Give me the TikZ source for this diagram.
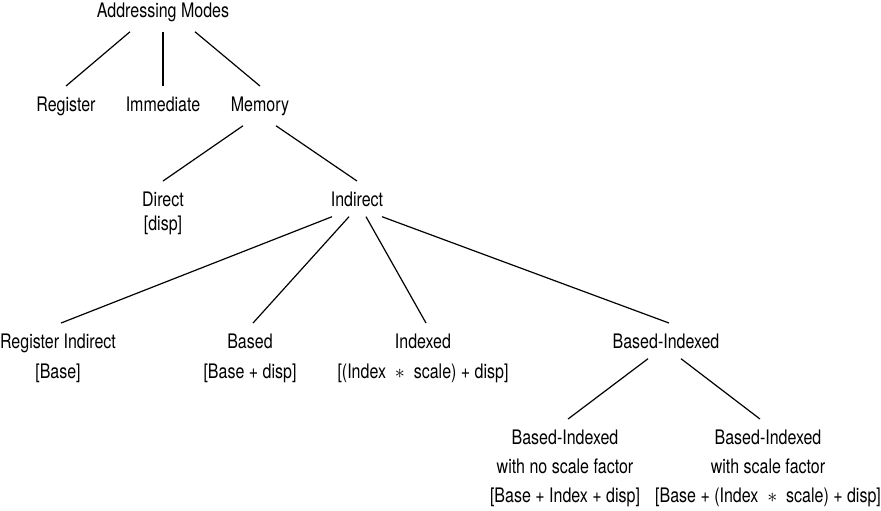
\documentclass[tikz,border=0pt]{standalone}
\usepackage{fontspec}
\setmainfont{TeX Gyre Heros}[FakeStretch=0.8]

\begin{document}
\begin{tikzpicture}[x=0.5pt, y=-0.5pt, font=\fontsize{10}{14.5}\selectfont,
        mode/.style={align=center, anchor=base, inner xsep=0pt, inner ysep=5pt},
        link/.style={line width=0.6pt}]
        \useasboundingbox (0,0) rectangle (881,510);

        % anchor=base sits on the last line of each node
        \node[mode] (am) at (163,17) {Addressing Modes};
        \node[mode] (reg) at (66,111) {Register};
        \node[mode] (imm) at (163,111) {Immediate};
        \node[mode] (mem) at (260,111) {Memory};

        \node[mode, font=\fontsize{10}{12}\selectfont] (dir) at (163,230) {Direct\\{[disp]}};
        \node[mode] (ind) at (357,206) {Indirect};

        \node[mode, font=\fontsize{10}{15}\selectfont] (ri) at (58,378) {Register Indirect\\{[Base]}};
        \node[mode, font=\fontsize{10}{15}\selectfont] (bsd) at (250,378) {Based\\{[Base + disp]}};
        \node[mode, font=\fontsize{10}{15}\selectfont] (idx) at (423,378) {Indexed\\{[(Index ${}\ast{}$ scale) + disp]}};
        \node[mode] (bi) at (666,348) {Based-Indexed};

        \node[mode] (bino) at (565,502) {Based-Indexed\\with no scale factor\\{[Base + Index + disp]}};
        \node[mode] (bisc) at (768,502) {Based-Indexed\\with scale factor\\{[Base + (Index ${}\ast{}$ scale) + disp]}};

        \draw[link] ([xshift=-16.5pt]am.south) -- (reg.north);
        \draw[link] (am.south) -- (imm.north);
        \draw[link] ([xshift=16pt]am.south) -- (mem.north);

        \draw[link] ([xshift=-8.5pt]mem.south) -- (dir.north);
        \draw[link] ([xshift=8pt]mem.south) -- (ind.north);

        \foreach \kid/\dx in {ri/-12.5, bsd/-4, idx/4.5, bi/12.5}
            \draw[link] ([xshift=\dx pt]ind.south) -- ([xshift=1.5pt]\kid.north);

        \draw[link] ([xshift=-9pt]bi.south) -- ([xshift=1.5pt]bino.north);
        \draw[link] ([xshift=7.5pt]bi.south) -- ([xshift=-4pt]bisc.north);
\end{tikzpicture}
\end{document}
